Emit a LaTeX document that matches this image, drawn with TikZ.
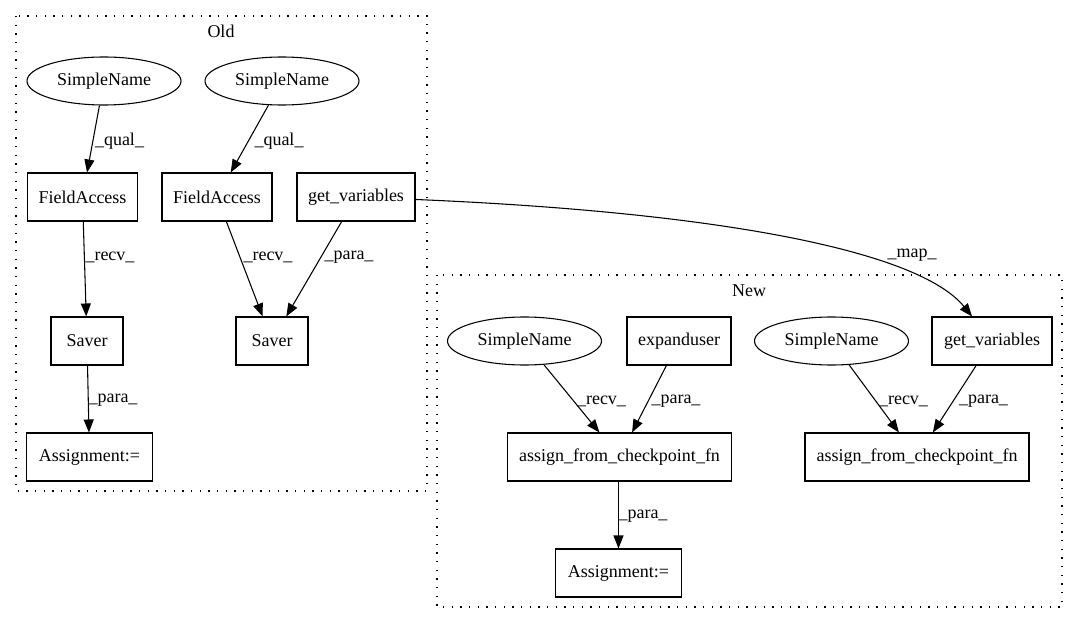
\documentclass[tikz,border=0pt]{standalone}
\usepackage{fontspec}
\setmainfont{Liberation Serif}
\usetikzlibrary{arrows.meta,shapes.geometric}

\begin{document}
\begin{tikzpicture}[x=0.75pt, y=-0.75pt, line width=0.8pt,
    font=\fontsize{13.5}{16}\selectfont,
    box/.style={draw, rectangle, minimum height=36pt, inner sep=0pt},
    oval/.style={draw, ellipse, minimum width=115.5pt, minimum height=36pt, inner sep=0pt},
    edge/.style={-{Triangle[length=9.75pt,width=7.5pt]}},
    cluster/.style={line width=0.9pt, dash pattern=on 0.9pt off 5.6pt}]
    \useasboundingbox (0,0) rectangle (1079,624);

    % old version
    \draw[cluster] (16, 16) rectangle (427, 491);
    \node[] (oldlabel) at (221, 31) {Old};
    \node[oval] (sn1) at (104, 81) {SimpleName};
    \node[oval] (sn2) at (282, 81) {SimpleName};
    \node[box, minimum width=83pt] (fa1) at (82.5, 197) {FieldAccess};
    \node[box, minimum width=82.5pt] (fa2) at (217, 197) {FieldAccess};
    \node[box, minimum width=88.5pt] (gvo) at (356, 197) {get\_variables};
    \node[box, minimum width=54pt] (sv1) at (87, 341) {Saver};
    \node[box, minimum width=54pt] (sv2) at (272, 341) {Saver};
    \node[box, minimum width=94pt] (as1) at (89.5, 457) {Assignment:=};

    \draw[edge] (sn1) -- (fa1);
    \draw[edge] (sn2) -- (fa2);
    \draw[edge] (fa1) -- (sv1);
    \draw[edge] (fa2) -- (sv2);
    \draw[edge] (gvo) -- (sv2);
    \draw[edge] (sv1) -- (as1);
    \node[] (q1) at (119.5, 141) {\_qual\_};
    \node[] (q2) at (279, 141) {\_qual\_};
    \node[] (r1) at (110, 257) {\_recv\_};
    \node[] (r2) at (268, 257) {\_recv\_};
    \node[] (p1) at (349, 257) {\_para\_};
    \node[] (p2) at (113, 400) {\_para\_};

    % new version
    \draw[cluster] (437, 275) rectangle (1062, 607);
    \node[] (newlabel) at (749, 291) {New};
    \node[oval] (sn3) at (524.5, 341) {SimpleName};
    \node[box, minimum width=78pt] (ex) at (679, 341) {expanduser};
    \node[oval] (sn4) at (831.5, 341) {SimpleName};
    \node[box, minimum width=90pt] (gvn) at (992, 341) {get\_variables};
    \node[box, minimum width=168.5pt] (af1) at (619.5, 457) {assign\_from\_checkpoint\_fn};
    \node[box, minimum width=168pt] (af2) at (917, 457) {assign\_from\_checkpoint\_fn};
    \node[box, minimum width=94pt] (as2) at (618.5, 573) {Assignment:=};

    \draw[edge] (sn3) -- (af1);
    \draw[edge] (ex) -- (af1);
    \draw[edge] (sn4) -- (af2);
    \draw[edge] (gvn) -- (af2);
    \draw[edge] (af1.south -| as2) -- (as2);
    \node[] (r3) at (601.5, 401) {\_recv\_};
    \node[] (p3) at (676, 401) {\_para\_};
    \node[] (r4) at (903.5, 401) {\_recv\_};
    \node[] (p4) at (983.5, 401) {\_para\_};
    \node[] (p5) at (643, 516) {\_para\_};

    % old -> new
    \draw[edge] (gvo) .. controls (715, 212) and (918, 250) .. (gvn);
    \node[] (m1) at (912, 255) {\_map\_};
\end{tikzpicture}
\end{document}
